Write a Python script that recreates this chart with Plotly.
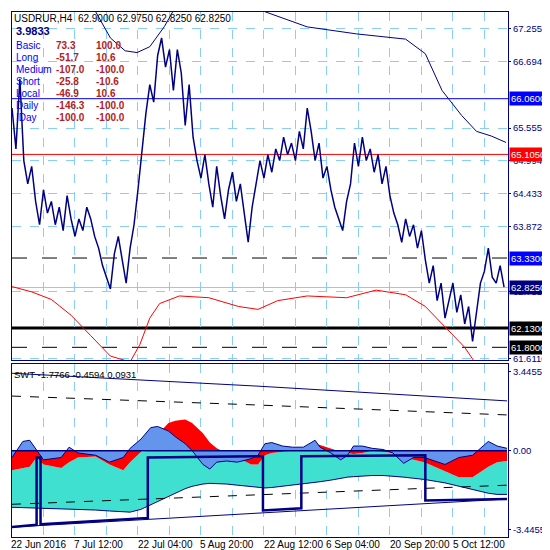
import plotly.graph_objects as go
import numpy as np

# ---- price panel (x = bar position) ----
price_x = list(range(0, 501, 4))
price = [65.9, 65.2, 66.4, 65.0, 64.6, 64.9, 64.3, 63.9, 64.5, 64.1, 64.3, 63.9, 64.2, 63.8,
         64.4, 64.0, 63.7, 64.0, 63.8, 64.2, 64.0, 63.7, 63.5, 63.2, 63.0, 62.8, 63.4, 63.7,
         63.3, 62.9, 63.5, 63.9, 64.5, 65.2, 65.8, 66.3, 66.0, 66.8, 67.1, 66.6, 66.9, 66.2,
         66.9, 66.5, 65.6, 66.3, 65.4, 65.0, 64.7, 65.1, 64.6, 64.2, 64.9, 64.4, 64.0, 64.5,
         64.8, 64.3, 64.6, 64.1, 63.6, 64.2, 64.6, 65.0, 64.7, 65.1, 64.8, 65.2, 65.0, 65.4,
         65.1, 65.3, 65.0, 65.5, 65.2, 65.9, 65.5, 65.0, 65.3, 64.7, 64.9, 64.5, 64.2, 64.0,
         63.8, 64.3, 64.6, 65.3, 64.9, 65.4, 65.0, 65.2, 64.8, 65.1, 64.6, 64.9, 64.4, 64.1,
         63.9, 63.6, 64.0, 63.7, 63.9, 63.5, 63.8, 63.3, 62.9, 63.2, 62.6, 62.9, 62.3, 62.6,
         62.9, 62.4, 62.7, 62.2, 62.5, 61.9, 62.4, 62.9, 63.1, 63.5, 63.0, 62.9, 63.2, 62.83]

ma_x = [85, 100, 115, 127, 140, 155, 165, None, 257, 300, 350, 400, 420, 437, 457, 472, 487, 502]
ma_y = [67.55, 67.1, 66.88, 66.85, 66.95, 67.3, 67.6, None, 67.55, 67.29, 67.17, 67.08, 66.83,
        66.2, 65.77, 65.5, 65.42, 65.31]

red_x = [0, 20, 40, 60, 80, 100, 120, 130, 140, 150, 170, 200, 230, 250, 270, 300, 340, 370,
         400, 420, 440, 460, 470]
red_y = [62.84, 62.75, 62.62, 62.35, 62.0, 61.65, 61.55, 61.85, 62.3, 62.55, 62.68, 62.65,
         62.5, 62.45, 62.6, 62.68, 62.65, 62.78, 62.7, 62.5, 62.15, 61.8, 61.55]

levels = [66.06, 65.105, 63.33, 62.825, 62.13, 61.80]
level_colors = ["#0000ff", "#ff0000", "#000000", "#87cefa", "#000000", "#000000"]
level_dash = ["solid", "solid", "longdash", "solid", "solid", "longdash"]
level_width = [1, 1, 1, 1, 3, 1]
level_box = ["#0000ff", "#ff0000", "#0000ff", "#000080", "#000000", "#000000"]

price_ticks = [67.255, 66.694, 65.555, 64.994, 64.433, 63.872, 62.755, 61.611]

# ---- SWT panel ----
swt_x = [0, 11, 18, 25, 32, 50, 58, 67, 85, 99, 113, 120, 131, 141, 148, 159, 166, 176, 183,
         194, 201, 208, 218, 229, 243, 250, 257, 264, 275, 285, 296, 308, 313, 324, 334, 341,
         347, 356, 366, 377, 387, 398, 408, 419, 440, 454, 468, 484, 493, 503]
swt_blue = [-0.3, 0.4, 0.45, 0.0, -0.4, -0.3, 0.15, -0.1, -0.2, -0.5, -0.3, 0.1, 0.5, 1.0,
            1.05, 0.85, 0.6, 0.3, 0.0, -0.6, -0.8, -0.5, -0.45, -0.5, -0.35, -0.2, 0.3, 0.35,
            0.2, 0.15, 0.15, 0.45, 0.15, -0.1, -0.4, -0.2, 0.2, 0.2, 0.1, 0.05, -0.1, -0.55,
            -0.3, -0.3, -0.6, -0.3, -0.2, 0.4, 0.2, 0.1]
swt_red = [-0.85, -0.75, -0.7, -0.3, -0.6, -0.75, -0.5, -0.3, -0.25, -0.6, -0.85, -0.5, -0.05,
           0.35, 0.7, 1.2, 1.3, 1.35, 1.2, 0.75, 0.35, 0.1, -0.1, -0.3, -0.6, -0.6, -0.2, -0.1,
           -0.05, 0.0, 0.1, 0.3, 0.25, 0.1, -0.05, -0.1, -0.15, -0.1, 0.0, -0.05, -0.1, -0.3,
           -0.4, -0.5, -0.9, -1.15, -1.15, -0.7, -0.5, -0.45]
swt_low = [-2.46, -2.48, -2.5, -2.5, -2.52, -2.53, -2.54, -2.55, -2.58, -2.62, -2.65, -2.67,
           -2.55, -2.35, -2.2, -2.0, -1.85, -1.65, -1.55, -1.45, -1.42, -1.42, -1.45, -1.5,
           -1.55, -1.6, -1.62, -1.6, -1.55, -1.5, -1.45, -1.38, -1.35, -1.28, -1.2, -1.15,
           -1.13, -1.1, -1.08, -1.08, -1.1, -1.15, -1.2, -1.25, -1.4, -1.55, -1.7, -1.85,
           -1.9, -1.9]
band_x = [0, 250, 503]
band_top = [3.36, 2.8, 2.16]
band_top_dash = [2.37, 1.98, 1.55]
band_low_dash = [-2.33, -1.92, -1.5]
band_low = [-3.32, -2.72, -2.1]
step_x = [0, 25, 25, 29, 29, 138, 138, 255, 255, 294, 294, 420, 420, 503]
step_y = [-3.32, -3.22, -0.3, -0.3, -3.2, -2.92, -0.3, -0.24, -2.6, -2.5, -0.24, -0.2, -2.16, -2.1]

date_pos = [0.5, 64, 129, 192, 257, 320, 385, 449]
date_labels = ["22 Jun 2016", "7 Jul 12:00", "22 Jul 04:00", "5 Aug 20:00",
               "22 Aug 12:00", "6 Sep 04:00", "20 Sep 20:00", "5 Oct 12:00"]

info_names = ["Basic", "Long", "Medium", "Short", "Local", "Daily", "IDay"]
info_a = ["73.3", "-51.7", "-107.0", "-25.8", "-46.9", "-146.3", "-100.0"]
info_b = ["100.0", "10.6", "-100.0", "-10.6", "10.6", "-100.0", "-100.0"]

NAVY = "#000080"
GRID = "#87cefa"
FONT = "Liberation Sans"
FS = 9.5

fig = go.Figure()
fig.add_trace(go.Scatter(x=price_x, y=price, mode="lines", line=dict(color=NAVY, width=1.5),
                         xaxis="x2", yaxis="y"))
fig.add_trace(go.Scatter(x=ma_x, y=ma_y, mode="lines", line=dict(color=NAVY, width=1),
                         xaxis="x2", yaxis="y", connectgaps=False))
fig.add_trace(go.Scatter(x=red_x, y=red_y, mode="lines", line=dict(color="#ff0000", width=1),
                         xaxis="x2", yaxis="y"))

# SWT fills
turq_top = np.minimum(np.array(swt_red), 0)
fig.add_trace(go.Scatter(x=swt_x, y=swt_low, mode="lines", line=dict(color=NAVY, width=1),
                         xaxis="x", yaxis="y2"))
fig.add_trace(go.Scatter(x=swt_x, y=turq_top, mode="lines", line=dict(width=0),
                         fill="tonexty", fillcolor="#40e0d0", xaxis="x", yaxis="y2"))
fig.add_trace(go.Scatter(x=swt_x, y=swt_red, mode="lines", line=dict(width=0),
                         fill="tozeroy", fillcolor="#ff0000", xaxis="x", yaxis="y2"))
fig.add_trace(go.Scatter(x=swt_x, y=swt_blue, mode="lines", line=dict(color=NAVY, width=1),
                         fill="tozeroy", fillcolor="#6495ed", xaxis="x", yaxis="y2"))
fig.add_trace(go.Scatter(x=[0, 503], y=[0, 0], mode="lines", line=dict(color=NAVY, width=1.5),
                         xaxis="x", yaxis="y2"))
for yy, dash in [(band_top, "solid"), (band_top_dash, "dash"),
                 (band_low_dash, "dash"), (band_low, "solid")]:
    fig.add_trace(go.Scatter(x=band_x, y=yy, mode="lines",
                             line=dict(color=NAVY if dash == "solid" else "black", width=1, dash=dash),
                             xaxis="x", yaxis="y2"))
fig.add_trace(go.Scatter(x=step_x, y=step_y, mode="lines", line=dict(color=NAVY, width=2.5),
                         xaxis="x", yaxis="y2"))

shapes = []
for lv, c, d, w in zip(levels, level_colors, level_dash, level_width):
    shapes.append(dict(type="line", xref="x2 domain", yref="y", x0=0, x1=1, y0=lv, y1=lv,
                       line=dict(color=c, width=w, dash=d), layer="below"))

ann = []
for lv, bc in zip(levels, level_box):
    ann.append(dict(x=1, xref="paper", xanchor="left", xshift=1, y=lv, yref="y",
                    text=f"{lv:.4f}", showarrow=False, bgcolor=bc, borderpad=1,
                    font=dict(color="white", size=FS, family=FONT)))
ann.append(dict(x=0, xref="paper", xanchor="left", xshift=0, y=1, yref="paper", yanchor="top",
                yshift=1, text="USDRUR,H4  62.9000 62.9750 62.8250 62.8250", showarrow=False,
                font=dict(color="black", size=FS + 0.5, family=FONT)))
ann.append(dict(x=0, xref="paper", xanchor="left", xshift=2, y=1, yref="paper", yanchor="top",
                yshift=-11, text="<b>3.9833</b>", showarrow=False,
                font=dict(color=NAVY, size=11, family=FONT)))
for i, (n, a, b) in enumerate(zip(info_names, info_a, info_b)):
    ys = -26 - 12 * i
    ann.append(dict(x=2, xref="x2", xanchor="left", y=1, yref="paper",
                    yanchor="top", yshift=ys, text=n, showarrow=False,
                    font=dict(color="#0000ff", size=FS + 0.5, family=FONT)))
    ann.append(dict(x=43, xref="x2", xanchor="left", y=1, yref="paper", yanchor="top", yshift=ys,
                    text=f"<b>{a}</b>", showarrow=False,
                    font=dict(color="#b22222", size=FS + 0.5, family=FONT)))
    ann.append(dict(x=83, xref="x2", xanchor="left", y=1, yref="paper", yanchor="top", yshift=ys,
                    text=f"<b>{b}</b>", showarrow=False,
                    font=dict(color="#b22222", size=FS + 0.5, family=FONT)))
ann.append(dict(x=0, xref="x", xanchor="left", y=0.329, yref="paper", yanchor="top", yshift=-3,
                text="SWT -1.7766 -0.4594 0.0931", showarrow=False,
                font=dict(color="black", size=FS, family=FONT)))
for p, t in zip(date_pos, date_labels):
    ann.append(dict(x=p, xref="x", xanchor="left", xshift=-3, y=0, yref="paper", yanchor="top",
                    yshift=0, text=t, showarrow=False,
                    font=dict(color="black", size=FS + 0.5, family=FONT)))

xgrid = dict(range=[0, 504], showticklabels=False, showgrid=False, zeroline=False,
             showline=True, mirror=True, linecolor=NAVY, linewidth=1,
             minor=dict(tick0=32, dtick=32, showgrid=True, griddash="dash", gridcolor=GRID, gridwidth=1))

fig.update_layout(
    width=542, height=542,
    margin=dict(l=3, r=39, t=3, b=13),
    plot_bgcolor="white", paper_bgcolor="white",
    showlegend=False,
    shapes=shapes, annotations=ann,
    xaxis=dict(domain=[0, 1], anchor="y2", **xgrid),
    xaxis2=dict(domain=[0, 1], anchor="y", matches="x", **xgrid),
    yaxis=dict(domain=[0.3365, 1], range=[61.577, 67.545], side="right", tickvals=price_ticks,
               ticktext=[f"{v:.4f}" for v in price_ticks], ticks="outside", ticklen=2,
               tickcolor=NAVY, showgrid=True, griddash="dash", gridcolor=GRID, zeroline=False,
               showline=True, mirror=True, linecolor=NAVY,
               tickfont=dict(color=NAVY, size=FS, family=FONT)),
    yaxis2=dict(domain=[0, 0.329], range=[-3.75, 3.75], side="right",
                tickvals=[3.4455, 0, -3.4455], ticktext=["3.4455", "0.00", "-3.4455"],
                ticks="outside", ticklen=2, tickcolor=NAVY, showgrid=False, zeroline=False,
                showline=True, mirror=True, linecolor=NAVY,
                tickfont=dict(color=NAVY, size=FS, family=FONT)),
)

fig.write_html("out.html")
